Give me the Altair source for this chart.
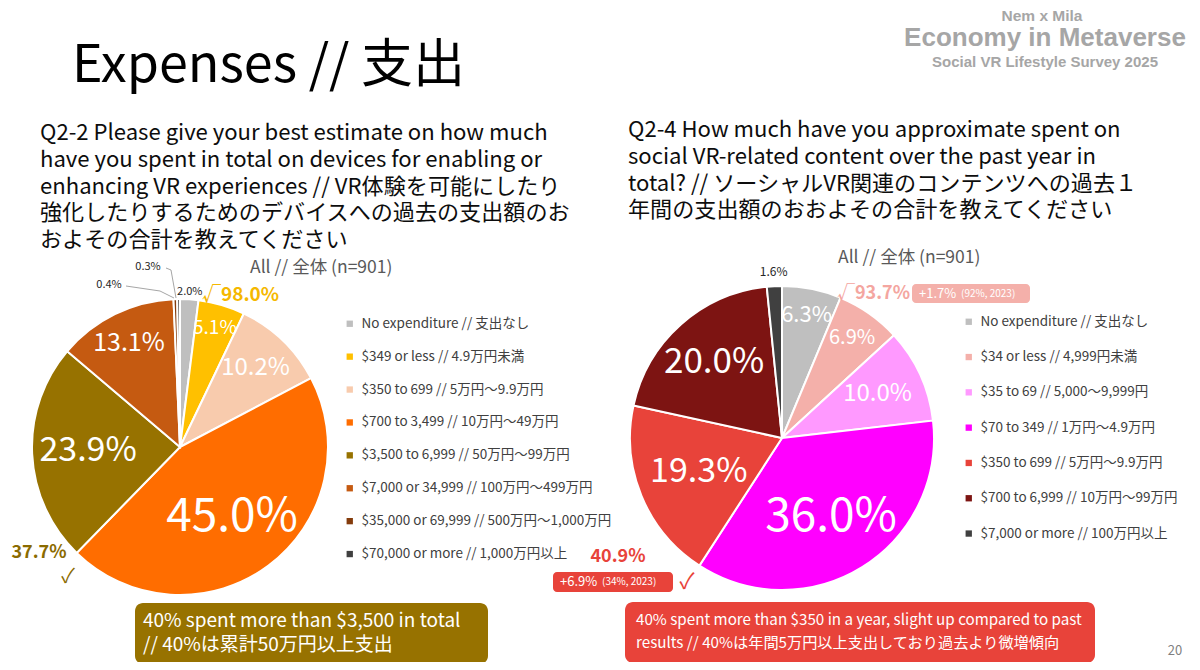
import altair as alt
import pandas as pd

FONT = "Noto Sans CJK JP"

# ---------------- data ----------------
L_CATS = [
    "No expenditure // 支出なし",
    "$349 or less // 4.9万円未満",
    "$350 to 699 // 5万円～9.9万円",
    "$700 to 3,499 // 10万円～49万円",
    "$3,500 to 6,999 // 50万円～99万円",
    "$7,000 or 34,999 // 100万円～499万円",
    "$35,000 or 69,999 // 500万円～1,000万円",
    "$70,000 or more // 1,000万円以上",
]
L_VALS = [2.0, 5.1, 10.2, 45.0, 23.9, 13.1, 0.4, 0.3]
L_COLORS = ["#BFBFBF", "#FFC000", "#F8CBAD", "#FF6D00", "#977200", "#C55A11", "#843C0C", "#404040"]

R_CATS = [
    "No expenditure // 支出なし",
    "$34 or less // 4,999円未満",
    "$35 to 69 // 5,000～9,999円",
    "$70 to 349 // 1万円～4.9万円",
    "$350 to 699 // 5万円～9.9万円",
    "$700 to 6,999 // 10万円～99万円",
    "$7,000 or more // 100万円以上",
]
R_VALS = [6.3, 6.9, 10.0, 36.0, 19.3, 20.0, 1.6]
R_COLORS = ["#BFBFBF", "#F4B0AA", "#FF99FF", "#FF00FF", "#E8433A", "#7D1412", "#404040"]

L_TOTAL_SPENT = 98.0
L_HIGH = 37.7
R_TOTAL_SPENT = 93.7
R_HIGH = 40.9

# ---------------- layout (label placement / style) ----------------
L_LABEL_R = [155, 124, 109, 87, 92, 116, 0, 0]
L_LABEL_FS = [11, 19, 24, 46, 34, 25, 1, 1]
L_LABEL_SHOW = [True, True, True, True, True, True, False, False]
L_LABEL_COL = ["#262626", "white", "white", "white", "white", "white", "white", "white"]

R_LABEL_R = [125, 122, 105, 93, 90, 102, 166]
R_LABEL_FS = [22, 20, 24, 46, 34, 35, 12]
R_LABEL_COL = ["white", "white", "white", "white", "white", "white", "#262626"]

OX, OY = 8, 8  # page margin


def P(x):
    return x - OX


def Q(y):
    return y - OY


def one():
    return pd.DataFrame({"a": [0]})


def T(s, x, y, size, color="#000000", weight="normal", align="left", baseline="middle", font=FONT):
    return (
        alt.Chart(pd.DataFrame({"t": [s]}))
        .mark_text(align=align, baseline=baseline, fontSize=size, color=color, fontWeight=weight, font=font)
        .encode(text="t:N", x=alt.value(P(x)), y=alt.value(Q(y)))
    )


def TM(lines, x, y_first, size, lh, color="#000000"):
    """Multi-line text block; y_first is the centre of the first line."""
    return (
        alt.Chart(one())
        .mark_text(text=lines, align="left", baseline="middle", fontSize=size, lineHeight=lh,
                   color=color, font=FONT)
        .encode(x=alt.value(P(x)), y=alt.value(Q(y_first)))
    )


def R(x1, y1, x2, y2, color, radius=0):
    return (
        alt.Chart(one())
        .mark_rect(color=color, cornerRadius=radius)
        .encode(x=alt.value(P(x1)), x2=alt.value(P(x2)), y=alt.value(Q(y1)), y2=alt.value(Q(y2)))
    )


def LINE(x1, y1, x2, y2, color="#A6A6A6", w=1):
    return (
        alt.Chart(one())
        .mark_rule(color=color, strokeWidth=w)
        .encode(x=alt.value(P(x1)), x2=alt.value(P(x2)), y=alt.value(Q(y1)), y2=alt.value(Q(y2)))
    )


def pie(cats, vals, colors, lr, lfs, lcol, show, cx, cy, radius, legx, legy, rowpad):
    df = pd.DataFrame({
        "cat": cats,
        "v": vals,
        "o": list(range(len(cats))),
        "lab": [f"{v:.1f}%" if s else "" for v, s in zip(vals, show)],
        "lr": lr,
        "fs": lfs,
        "tc": lcol,
    })
    arcs = alt.Chart(df).mark_arc(outerRadius=radius, stroke="white", strokeWidth=2).encode(
        theta=alt.Theta("v:Q", stack=True),
        color=alt.Color(
            "cat:N",
            scale=alt.Scale(domain=cats, range=colors),
            legend=alt.Legend(
                orient="none", legendX=P(legx), legendY=Q(legy), title=None,
                symbolType="square", symbolSize=40, symbolStrokeWidth=0,
                labelFont=FONT, labelFontSize=13.5, labelColor="#404040",
                labelLimit=400, rowPadding=rowpad, labelOffset=5, padding=0,
            ),
        ),
        order=alt.Order("o:Q"),
        x=alt.value(P(cx)),
        y=alt.value(Q(cy)),
    )
    labels = (
        alt.Chart(df)
        .transform_window(cum="sum(v)", sort=[alt.SortField("o", order="ascending")], frame=[None, 0])
        .transform_joinaggregate(total="sum(v)")
        .transform_calculate(ang="2 * PI * (datum.cum - datum.v / 2) / datum.total")
        .mark_text(font=FONT, align="center", baseline="middle")
        .encode(
            theta=alt.Theta("ang:Q", scale=None),
            radius=alt.Radius("lr:Q", scale=None),
            text="lab:N",
            size=alt.Size("fs:Q", scale=None),
            color=alt.Color("tc:N", scale=None),
            x=alt.value(P(cx)),
            y=alt.value(Q(cy)),
        )
    )
    return arcs, labels


l_arcs, l_labels = pie(L_CATS, L_VALS, L_COLORS, L_LABEL_R, L_LABEL_FS, L_LABEL_COL, L_LABEL_SHOW,
                       180, 447, 148, 343, 317, 17.9)
r_arcs, r_labels = pie(R_CATS, R_VALS, R_COLORS, R_LABEL_R, R_LABEL_FS, R_LABEL_COL, [True] * len(R_VALS),
                       782, 438, 152, 962, 315, 20.3)

layers = []
# header
layers += [
    T("Expenses // 支出", 72, 66, 52, "#000000"),
    T("Nem x Mila", 1042, 16, 15.5, "#A6A6A6", "bold", "center", font="Liberation Sans"),
    T("Economy in Metaverse", 1045, 38, 26, "#A6A6A6", "bold", "center", font="Liberation Sans"),
    T("Social VR Lifestyle Survey 2025", 1045, 62, 15, "#A6A6A6", "bold", "center", font="Liberation Sans"),
]
# question texts
q_left = [
    "Q2-2 Please give your best estimate on how much",
    "have you spent in total on devices for enabling or",
    "enhancing VR experiences // VR体験を可能にしたり",
    "強化したりするためのデバイスへの過去の支出額のお",
    "およその合計を教えてください",
]
q_right = [
    "Q2-4 How much have you approximate spent on",
    "social VR-related content over the past year in",
    "total? // ソーシャルVR関連のコンテンツへの過去１",
    "年間の支出額のおおよその合計を教えてください",
]
layers += [
    TM(q_left, 40, 133, 22.1, 26.8, "#0D0D0D"),
    TM(q_right, 628, 130, 22.1, 26.8, "#0D0D0D"),
]

layers += [
    T("All // 全体 (n=901)", 250, 268, 17.5, "#595959"),
    T("All // 全体 (n=901)", 838, 258, 17.5, "#595959"),
]

# pies
layers += [l_arcs, l_labels, r_arcs, r_labels]

# small slice leaders (left pie)
layers += [
    LINE(166, 268, 171, 270), LINE(171, 270, 176, 298),
    LINE(126, 286, 160, 291), LINE(160, 291, 174, 298),
    T(f"{L_VALS[7]:.1f}%", 148, 267, 11, "#262626", align="center"),
    T(f"{L_VALS[6]:.1f}%", 109, 285, 11, "#262626", align="center"),
]

# callouts left
layers += [
    T(f"√{L_TOTAL_SPENT:.1f}%", 202, 295, 19, "#F5B800", "bold"),
    T(f"{L_HIGH:.1f}%", 39, 553, 18, "#8B6B00", "bold", "center"),
    T("✓", 68, 577, 20, "#8B6B00", align="center"),
]
# callouts right
layers += [
    T(f"√{R_TOTAL_SPENT:.1f}%", 837, 294, 18, "#F4A6A0", "bold"),
    R(912, 284, 1030, 303, "#F4B0AA", 4),
    T("+1.7%", 919, 293.5, 13, "white"),
    T("(92%, 2023)", 961, 294, 10, "white"),
    T(f"{R_HIGH:.1f}%", 618, 557, 18, "#E8433A", "bold", "center"),
    R(553, 572, 673, 592, "#E8433A", 4),
    T("+6.9%", 560, 581.5, 13, "white"),
    T("(34%, 2023)", 602, 582, 10, "white"),
    T("✓", 687, 582, 22, "#E8433A", align="center"),
]

# bottom boxes
layers += [
    R(135, 603, 488, 664, "#977200", 8),
    TM(["40% spent more than $3,500 in total", "// 40%は累計50万円以上支出"], 143, 621, 19, 24, "white"),
    R(625, 602, 1095, 663, "#E8433A", 8),
    TM(["40% spent more than $350 in a year, slight up compared to past",
        "results // 40%は年間5万円以上支出しており過去より微増傾向"], 636, 620, 15.2, 23, "white"),
    T("20", 1175, 651, 13, "#7F7F7F", align="center"),
]

chart = (
    alt.layer(*layers)
    .resolve_scale(theta="independent", color="independent", radius="independent", size="independent")
    .properties(width=1184, height=654, autosize=alt.AutoSizeParams(type="none"), padding=0, background="white")
    .configure_view(stroke=None)
)

chart.save("out.html", embed_options={"renderer": "svg", "actions": False})
